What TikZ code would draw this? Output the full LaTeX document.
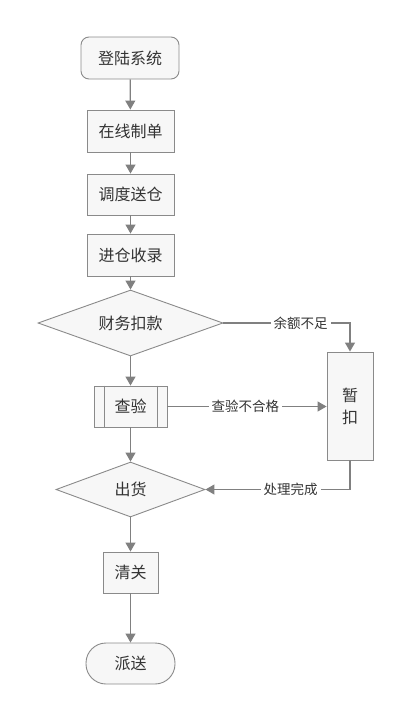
\documentclass[tikz,border=0pt]{standalone}
\usepackage{fontspec}
\setmainfont{Noto Sans CJK SC}
\usetikzlibrary{shapes.geometric,arrows.meta}
\definecolor{boxfill}{HTML}{F7F7F7}
\definecolor{boxline}{HTML}{8A8A8A}
\definecolor{flowline}{HTML}{808080}
\definecolor{txt}{HTML}{333333}
\begin{document}
\begin{tikzpicture}[x=1pt,y=-1pt,
  every node/.style={text=txt,font=\fontsize{16}{19}\selectfont},
  stepbox/.style={draw=boxline,fill=boxfill,line width=0.9pt,inner sep=0pt},
  choice/.style={stepbox,diamond,aspect=2.8},
  flow/.style={draw=flowline,line width=1.2pt,-{Triangle[length=9pt,width=10pt]}},
  lbl/.style={fill=white,inner sep=3pt,font=\fontsize{13.5}{16}\selectfont}]
\useasboundingbox (0,0) rectangle (411,723);
%\draw[help lines,step=50] (0,0) grid (411,723);

\node (login) at (130,58) [stepbox,rounded corners=8pt,minimum width=98pt,minimum height=42pt] {登陆系统};
\node (order) at (130.5,131) [stepbox,minimum width=87pt,minimum height=42pt] {在线制单};
\node (dispatch) at (130.5,194.5) [stepbox,minimum width=87pt,minimum height=41pt] {调度送仓};
\node (storage) at (130.5,255) [stepbox,minimum width=87pt,minimum height=42pt] {进仓收录};
\node (pay) at (130.5,323) [choice,minimum width=185pt,minimum height=66pt] {财务扣款};
\node (check) at (130.5,406.5) [stepbox,minimum width=73pt,minimum height=41pt] {查验};
\draw [boxline,line width=0.9pt] ([xshift=11pt]check.north west) -- ([xshift=11pt]check.south west);
\draw [boxline,line width=0.9pt] ([xshift=-10pt]check.north east) -- ([xshift=-10pt]check.south east);
\node (hold) at (350,406) [stepbox,minimum width=46pt,minimum height=108pt,align=center] {暂\\[3pt]扣};
\node (ship) at (130.5,489.5) [choice,minimum width=149pt,minimum height=55pt] {出货};
\node (customs) at (130.5,572.5) [stepbox,minimum width=55pt,minimum height=41pt] {清关};
\node (deliver) at (130.5,663.5) [stepbox,rounded corners=20pt,minimum width=89pt,minimum height=41pt] {派送};

\draw [flow] (login) -- (order);
\draw [flow] (order) -- (dispatch);
\draw [flow] (dispatch) -- (storage);
\draw [flow] (storage) -- (pay);
\draw [flow] (pay) -- (check);
\draw [flow] (check) -- (ship);
\draw [flow] (ship) -- (customs);
\draw [flow] (customs) -- (deliver);

\draw [flow] (pay.east) -- node[lbl,pos=0.61] {余额不足} (pay.east -| hold) -- (hold.north);
\draw [flow] (check.east) -- node[lbl,pos=0.49] {查验不合格} (check.east -| hold.west);
\draw [flow] (hold.south) -- (hold.south |- ship.east) -- node[lbl,pos=0.41] {处理完成} (ship.east);
\end{tikzpicture}
\end{document}
